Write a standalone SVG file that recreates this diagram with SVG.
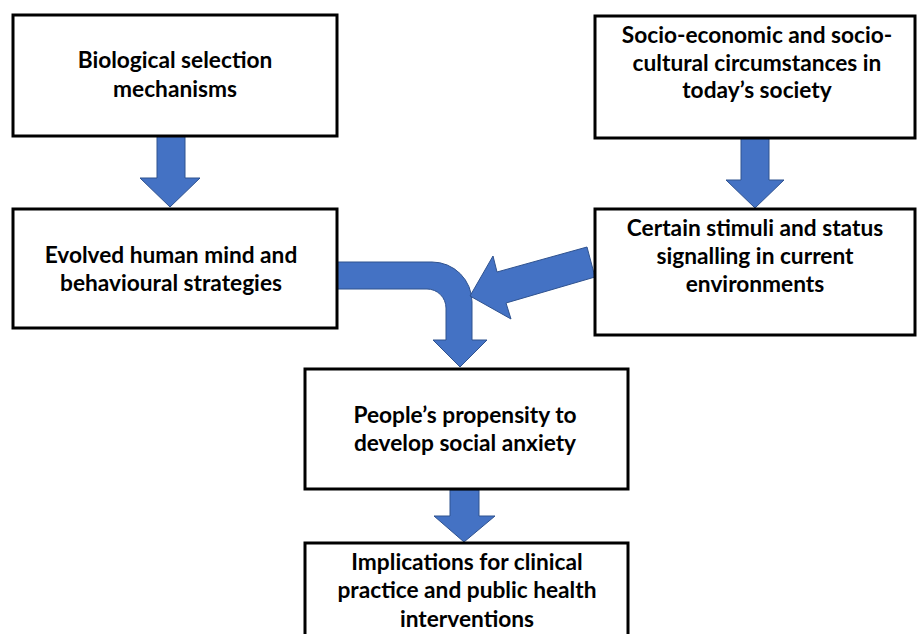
<svg xmlns="http://www.w3.org/2000/svg" width="917" height="634" viewBox="0 0 917 634">
<style>
.box{fill:#ffffff;stroke:#000000;stroke-width:3}
.lbl{font-family:Lato,"Liberation Sans",sans-serif;font-weight:bold;font-size:22.7px;fill:#000000;text-anchor:middle}
.arr{fill:#4472C4;stroke:#2F528F;stroke-width:1;stroke-linejoin:miter}
</style>
<rect width="917" height="634" fill="#ffffff"/>
<g id="connectors">
<path class="arr" d="M157,136 H185 V178 H200 L170,207 L140,178 H157 Z"/>
<path class="arr" d="M741,138 H769 V180 H784 L755,208 L726,180 H741 Z"/>
<path class="arr" d="M337,262 H432 A40,40 0 0 1 472,302 V340 H487 L460,367 L433,340 H446 V308 A19,19 0 0 0 427,289 H337 Z"/>
<path class="arr" d="M587,247 L497,272 L493,256 L470,296 L511,319 L506,303 L595,277 Z"/>
<path class="arr" d="M450,490 H479 V516 H495 L464,542 L434,516 H450 Z"/>
</g>
<g id="node-biological">
<rect class="box" x="13" y="15" width="324" height="121"/>
<text class="lbl" x="175" y="68">Biological selection</text>
<text class="lbl" x="175" y="97">mechanisms</text>
</g>
<g id="node-socioeconomic">
<rect class="box" x="595" y="16" width="320" height="122"/>
<text class="lbl" x="757" y="43">Socio-economic and socio-</text>
<text class="lbl" x="757" y="71">cultural circumstances in</text>
<text class="lbl" x="757" y="98">today’s society</text>
</g>
<g id="node-evolved">
<rect class="box" x="13" y="209" width="324" height="119"/>
<text class="lbl" x="171" y="263">Evolved human mind and</text>
<text class="lbl" x="171" y="291">behavioural strategies</text>
</g>
<g id="node-stimuli">
<rect class="box" x="595" y="209" width="320" height="126"/>
<text class="lbl" x="755" y="236">Certain stimuli and status</text>
<text class="lbl" x="755" y="264">signalling in current</text>
<text class="lbl" x="755" y="292">environments</text>
</g>
<g id="node-propensity">
<rect class="box" x="305" y="369" width="323" height="120"/>
<text class="lbl" x="465" y="423">People’s propensity to</text>
<text class="lbl" x="465" y="451">develop social anxiety</text>
</g>
<g id="node-implications">
<rect class="box" x="305" y="543" width="323" height="100"/>
<text class="lbl" x="467" y="570">Implications for clinical</text>
<text class="lbl" x="467" y="598">practice and public health</text>
<text class="lbl" x="467" y="627">interventions</text>
</g>
</svg>
